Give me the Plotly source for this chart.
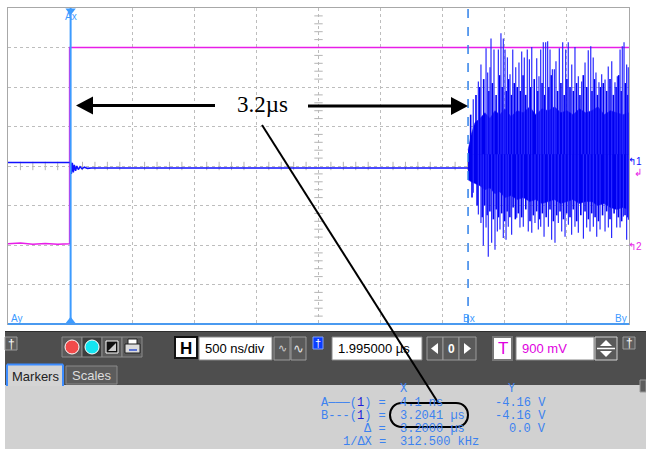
import plotly.graph_objects as go
import numpy as np

W, H = 646, 449

# ---------------- data (time in µs, amplitude in screen divisions) ----------------
marker_a_us = 0.0041
marker_b_us = 3.2041

ch2_t = [-0.5, -0.40, -0.30, -0.20, -0.10, -0.004, -0.004, 4.5]
ch2_v = [2.03, 2.05, 2.02, 2.04, 2.02, 2.03, 7.0, 7.0]

ch1_t = [-0.5, 0.004, 0.010, 0.018, 0.026, 0.034, 0.044, 0.054, 0.066, 0.080,
         0.096, 0.115, 0.14, 0.17, 3.204]
ch1_v = [4.09, 4.09, 3.80, 4.08, 3.84, 4.03, 3.88, 4.00, 3.91, 3.98,
         3.93, 3.97, 3.94, 3.95, 3.95]

# burst: dense core envelope
core_t = [3.204, 3.23, 3.26, 3.30, 3.34, 3.38, 3.42, 3.46, 3.50, 3.55, 3.60, 3.65,
          3.70, 3.75, 3.80, 3.85, 3.90, 3.95, 4.00, 4.05, 4.10, 4.15, 4.20, 4.25,
          4.30, 4.35, 4.40, 4.45, 4.50]
core_hi = [4.4, 4.8, 5.1, 5.2, 5.35, 5.2, 5.4, 5.3, 5.45, 5.25, 5.4, 5.35, 5.5, 5.3,
           5.45, 5.4, 5.5, 5.35, 5.4, 5.3, 5.45, 5.35, 5.4, 5.5, 5.3, 5.4, 5.35, 5.3, 5.35]
core_lo = [3.65, 3.6, 3.55, 3.5, 3.4, 3.45, 3.3, 3.35, 3.2, 3.25, 3.15, 3.2, 3.1, 3.15,
           3.05, 3.1, 3.15, 3.05, 3.1, 3.15, 3.05, 3.1, 3.1, 3.0, 3.05, 2.95, 2.9, 2.95, 2.9]

# burst: positive peaks
peak_hi_t = [3.246, 3.287, 3.308, 3.349, 3.362, 3.381, 3.389, 3.413, 3.448, 3.469,
             3.488, 3.502, 3.521, 3.542, 3.564, 3.588, 3.614, 3.636, 3.657, 3.681,
             3.698, 3.717, 3.757, 3.775, 3.789, 3.810, 3.829, 3.845, 3.864, 3.883,
             3.899, 3.912, 3.939, 3.966, 3.990, 4.011, 4.039, 4.065, 4.092, 4.119,
             4.146, 4.172, 4.192, 4.212, 4.234, 4.258, 4.280, 4.307, 4.333, 4.361,
             4.387, 4.406, 4.428, 4.446, 4.460, 4.481, 4.494]
peak_hi_v = [5.69, 6.14, 6.57, 6.98, 6.37, 6.50, 7.23, 6.95, 6.95, 7.36,
             7.23, 6.95, 6.75, 6.32, 6.95, 6.50, 6.62, 6.90, 6.75, 6.95,
             6.70, 7.01, 6.73, 6.27, 6.95, 7.13, 7.13, 7.16, 6.95, 6.45,
             6.45, 6.65, 6.98, 7.13, 6.95, 7.13, 6.57, 7.01, 6.27, 6.14,
             6.62, 6.93, 7.03, 6.75, 6.37, 6.12, 6.32, 6.19, 6.52, 6.65,
             6.12, 6.27, 6.95, 7.03, 7.13, 6.57, 6.50]

# burst: negative peaks
peak_lo_t = [3.246, 3.287, 3.308, 3.327, 3.349, 3.367, 3.394, 3.421, 3.440, 3.461,
             3.488, 3.510, 3.528, 3.555, 3.596, 3.622, 3.649, 3.689, 3.717, 3.743,
             3.770, 3.789, 3.816, 3.851, 3.877, 3.904, 3.931, 3.958, 3.985, 4.012,
             4.038, 4.065, 4.092, 4.133, 4.159, 4.186, 4.213, 4.240, 4.267, 4.307,
             4.334, 4.360, 4.401, 4.428, 4.455, 4.481, 4.495]
peak_lo_v = [3.32, 2.77, 2.56, 1.98, 2.44, 1.70, 2.06, 1.88, 2.34, 2.39,
             2.18, 2.13, 2.46, 2.26, 2.69, 2.44, 2.46, 2.34, 2.31, 2.56,
             2.39, 2.46, 2.21, 2.46, 2.13, 2.06, 2.56, 2.34, 2.21, 2.51,
             2.26, 2.46, 2.31, 2.16, 2.44, 2.34, 2.46, 2.21, 2.39, 2.34,
             2.44, 2.18, 2.44, 2.44, 2.72, 2.13, 2.64]

# burst: medium-height positive / negative swings inside the envelope
mid_hi_t = [3.225, 3.268, 3.298, 3.330, 3.372, 3.400, 3.430, 3.458, 3.479, 3.512,
            3.531, 3.553, 3.576, 3.600, 3.625, 3.647, 3.669, 3.708, 3.737, 3.766,
            3.800, 3.820, 3.855, 3.874, 3.925, 3.952, 3.978, 4.000, 4.025, 4.052,
            4.078, 4.105, 4.132, 4.160, 4.202, 4.222, 4.246, 4.269, 4.293, 4.320,
            4.347, 4.374, 4.396, 4.417, 4.437, 4.470, 4.488]
mid_hi_v = [5.3, 5.8, 6.0, 6.2, 5.9, 6.1, 5.8, 6.3, 6.0, 5.9,
            6.2, 5.8, 6.1, 6.0, 5.9, 6.3, 5.8, 6.0, 6.2, 5.9,
            6.1, 5.8, 6.0, 6.3, 5.9, 6.1, 5.8, 6.2, 6.0, 5.9,
            6.1, 5.8, 6.3, 6.0, 5.9, 6.2, 5.8, 6.0, 6.1, 5.9,
            6.2, 5.8, 6.0, 6.3, 5.9, 6.1, 5.8]
mid_lo_t = [3.236, 3.277, 3.318, 3.338, 3.358, 3.380, 3.408, 3.431, 3.450, 3.475,
            3.499, 3.519, 3.541, 3.567, 3.585, 3.609, 3.636, 3.669, 3.703, 3.730,
            3.756, 3.780, 3.803, 3.833, 3.864, 3.891, 3.918, 3.945, 3.972, 3.998,
            4.025, 4.052, 4.079, 4.112, 4.146, 4.173, 4.200, 4.227, 4.254, 4.287,
            4.320, 4.347, 4.380, 4.414, 4.441, 4.468, 4.490]
mid_lo_v = [3.2, 3.0, 2.7, 3.0, 2.75, 2.85, 2.65, 2.9, 2.7, 2.8,
            2.6, 2.85, 2.7, 2.95, 2.65, 2.8, 2.7, 2.9, 2.6, 2.75,
            2.85, 2.65, 2.8, 2.7, 2.9, 2.6, 2.75, 2.85, 2.65, 2.8,
            2.7, 2.9, 2.6, 2.75, 2.85, 2.65, 2.8, 2.7, 2.6, 2.75,
            2.85, 2.65, 2.8, 2.7, 2.6, 2.75, 2.7]

# measurement readout
meas_labels = ["A———(<span style='color:#1c1cd8'>1</span>) =",
               "B---(<span style='color:#1c1cd8'>1</span>) =",
               "Δ =", "1/ΔX ="]
meas_x = ["4.1 ns", "3.2041 µs", "3.2000 µs", "312.500 kHz"]
meas_y = ["-4.16 V", "-4.16 V", "0.0 V"]

# ---------------- helpers (pixel -> paper) ----------------
def px(x):
    return x / W


def py(y):
    return 1 - y / H


shapes = []
annots = []


def rect(x0, y0, x1, y1, fill, line="rgba(0,0,0,0)", lw=0):
    shapes.append(dict(type="rect", xref="paper", yref="paper",
                       x0=px(x0), x1=px(x1), y0=py(y1), y1=py(y0),
                       fillcolor=fill, line=dict(color=line, width=lw), layer="above"))


def seg(x0, y0, x1, y1, color, lw, dash="solid"):
    shapes.append(dict(type="line", xref="paper", yref="paper",
                       x0=px(x0), x1=px(x1), y0=py(y0), y1=py(y1),
                       line=dict(color=color, width=lw, dash=dash), layer="above"))


def poly(pts, fill, line="rgba(0,0,0,0)", lw=0):
    d = "M " + " L ".join(f"{px(a)},{py(b)}" for a, b in pts) + " Z"
    shapes.append(dict(type="path", xref="paper", yref="paper", path=d,
                       fillcolor=fill, line=dict(color=line, width=lw), layer="above"))


def circ(cx, cy, r, fill, line="rgba(0,0,0,0)", lw=0):
    shapes.append(dict(type="circle", xref="paper", yref="paper",
                       x0=px(cx - r), x1=px(cx + r), y0=py(cy + r), y1=py(cy - r),
                       fillcolor=fill, line=dict(color=line, width=lw), layer="above"))


def txt(x, y, s, size, color, family="Liberation Sans", xa="left", ya="middle"):
    annots.append(dict(x=px(x), y=py(y), xref="paper", yref="paper", text=s,
                       showarrow=False, xanchor=xa, yanchor=ya,
                       font=dict(size=size, color=color, family=family)))


# ---------------- traces ----------------
fig = go.Figure()

# centre-line minor ticks (graticule)
vt = [v for v in np.arange(0, 8.001, 0.2) if abs(v - round(v)) > 1e-6]
ht = [v for v in np.arange(-0.5, 4.501, 0.1) if abs(v * 2 - round(v * 2)) > 1e-6]
fig.add_trace(go.Scatter(x=[2.0] * len(vt), y=vt, mode="markers", hoverinfo="skip",
                         marker=dict(symbol="line-ew", size=6, line=dict(color="#b4b4b4", width=1))))
fig.add_trace(go.Scatter(x=ht, y=[4.0] * len(ht), mode="markers", hoverinfo="skip",
                         marker=dict(symbol="line-ns", size=6, line=dict(color="#b4b4b4", width=1))))

# channel 2 (magenta)
fig.add_trace(go.Scatter(x=ch2_t, y=ch2_v, mode="lines",
                         line=dict(color="#e81ee8", width=1.5)))
# channel 1 baseline (blue)
fig.add_trace(go.Scatter(x=ch1_t, y=ch1_v, mode="lines",
                         line=dict(color="#1010ff", width=1.5)))

# burst medium swings
mx, my = [], []
for t, v in zip(mid_hi_t, mid_hi_v):
    mx += [t, t, None]
    my += [4.3, v, None]
for t, v in zip(mid_lo_t, mid_lo_v):
    mx += [t, t, None]
    my += [4.3, v, None]
fig.add_trace(go.Scatter(x=mx, y=my, mode="lines", connectgaps=False,
                         line=dict(color="#0000f0", width=1.6)))

# burst core
fig.add_trace(go.Scatter(x=core_t + core_t[::-1], y=core_hi + core_lo[::-1],
                         mode="lines", fill="toself", fillcolor="#0000f0",
                         line=dict(color="#0000f0", width=0.5)))

# burst peaks
sx, sy = [], []
for t, v in zip(peak_hi_t, peak_hi_v):
    sx += [t, t, None]
    sy += [4.3, v, None]
for t, v in zip(peak_lo_t, peak_lo_v):
    sx += [t, t, None]
    sy += [4.3, v, None]
fig.add_trace(go.Scatter(x=sx, y=sy, mode="lines", connectgaps=False,
                         line=dict(color="#2a2aff", width=1.2)))

# marker triangles
fig.add_trace(go.Scatter(x=[marker_a_us, marker_a_us], y=[7.93, 0.07], mode="markers",
                         cliponaxis=False, hoverinfo="skip",
                         marker=dict(symbol=["triangle-down", "triangle-up"], size=9,
                                     color="#3d9bff")))

# ---------------- plot decorations ----------------
shapes.append(dict(type="line", xref="x", yref="y", x0=marker_a_us, x1=marker_a_us, y0=0, y1=8,
                   line=dict(color="#3d9bff", width=2), layer="above"))
shapes.append(dict(type="line", xref="x", yref="y", x0=marker_b_us, x1=marker_b_us, y0=0, y1=8,
                   line=dict(color="#2f80e8", width=1.5, dash="dash"), layer="above"))
seg(8, 324, 629, 324, "#4a9af0", 2)

txt(71, 16, "Ax", 10, "#3d9bff", xa="center")
txt(9, 318, "Ay", 10, "#3d9bff")
txt(469, 318, "Bx", 10, "#3d9bff", xa="center")
txt(629, 318, "By", 10, "#3d9bff", xa="right")

# channel offset markers on right
txt(644, 161, "↰1", 10, "#1010ff", xa="right")
txt(632, 172, "↲", 10, "#e81ee8")
txt(644, 246, "↰2", 10, "#e81ee8", xa="right")

# ---------------- control panel ----------------
rect(5, 331, 646, 385, "#4e4e4e")
seg(5, 331.5, 646, 331.5, "#2e2e2e", 1)
rect(5, 385, 646, 449, "#d1d1d1")

rect(5, 337, 17, 350, "#5e5e5e", "#9a9a9a", 1)
txt(11, 343.5, "†", 12, "#ffffff", xa="center")
rect(623, 337, 635, 349, "#5e5e5e", "#9a9a9a", 1)
txt(629, 343, "†", 12, "#ffffff", xa="center")
rect(640, 380, 646, 392, "#5e5e5e", "#9a9a9a", 1)

rect(62, 337, 82, 357, "#5a5a5a", "#8a8a8a", 1)
circ(72, 347, 7, "#f24a4a", "#ffffff", 1)
rect(82, 337, 102, 357, "#3e3e3e", "#8a8a8a", 1)
circ(92, 347, 7, "#14e4f0", "#ffffff", 1)
rect(102, 337, 122, 357, "#5a5a5a", "#8a8a8a", 1)
rect(106, 341, 118, 353, "#111111", "#ffffff", 1)
poly([(108, 351), (116, 343), (116, 351)], "#cfcfcf")
rect(122, 337, 142, 357, "#5a5a5a", "#8a8a8a", 1)
rect(128, 339, 137, 345, "#ffffff", "#222222", 1)
rect(125, 344, 140, 353, "#dcdcdc", "#222222", 1)
seg(129, 350, 137, 350, "#3050d0", 1.5)

rect(175, 337, 197, 358, "#ffffff", "#111111", 2)
txt(186, 348, "<b>H</b>", 17, "#000000", xa="center")
rect(199, 337, 272, 360, "#ffffff", "#888888", 1)
txt(203, 348.5, "500 ns/div", 13, "#000000")
rect(274, 337, 290, 360, "#5a5a5a", "#9a9a9a", 1)
txt(282, 348, "∿", 11, "#cfcfcf", xa="center")
rect(291, 337, 306, 360, "#5a5a5a", "#9a9a9a", 1)
txt(298.5, 348, "∿", 13, "#e6e6e6", xa="center")
rect(313, 337, 323, 349, "#0a3cff", "#7fa0ff", 1)
txt(318, 343, "†", 11, "#ffffff", xa="center")
rect(332, 337, 422, 360, "#ffffff", "#888888", 1)
txt(336, 348.5, "1.995000 µs", 13, "#000000")

rect(427, 337, 443, 360, "#5a5a5a", "#9a9a9a", 1)
poly([(431, 348.5), (438, 343), (438, 354)], "#ffffff")
rect(443, 337, 459, 360, "#5a5a5a", "#9a9a9a", 1)
txt(451, 348.5, "<b>0</b>", 12, "#ffffff", xa="center")
rect(459, 337, 476, 360, "#5a5a5a", "#9a9a9a", 1)
poly([(471, 348.5), (464, 343), (464, 354)], "#ffffff")

rect(493, 337, 512, 360, "#ffffff", "#777777", 2)
txt(502.5, 348.5, "T", 17, "#e000e0", xa="center")
rect(516, 337, 594, 360, "#ffffff", "#888888", 1)
txt(520, 348.5, "900 mV", 13, "#e000e0")
rect(595, 337, 617, 360, "#5a5a5a", "#d0d0d0", 1)
seg(597, 348.5, 615, 348.5, "#ffffff", 1.5)
poly([(600, 346), (606, 340), (612, 346)], "#ffffff")
poly([(600, 351), (606, 357), (612, 351)], "#ffffff")

rect(7, 364, 63, 386, "#d4d4d4")
seg(7, 386, 7, 364.5, "#3c8cff", 2)
seg(7, 364.5, 63, 364.5, "#3c8cff", 2)
seg(63, 364.5, 63, 386, "#3c8cff", 2)
txt(35, 376, "Markers", 13, "#222222", xa="center")
rect(66, 366, 117, 384, "#5c5c5c", "#8a8a8a", 1)
txt(91.5, 375.5, "Scales", 13, "#dedede", xa="center")

mono = "Liberation Mono"
mc = "#3c82f0"
txt(403, 389, "X", 12, mc, mono, xa="center")
txt(511, 389, "Y", 12, mc, mono, xa="center")
rows_y = [403, 416, 429, 442]
for i, (lab, xv) in enumerate(zip(meas_labels, meas_x)):
    txt(388, rows_y[i], lab, 12, mc, mono, xa="right")
    txt(398, rows_y[i], xv, 12, mc, mono)
for i, yv in enumerate(meas_y):
    txt(548, rows_y[i], yv, 12, mc, mono, xa="right")

# ---------------- annotation overlay (arrows, callout) ----------------
seg(215, 105.5, 90, 105.5, "#000000", 3)
poly([(76, 105.5), (93, 96.5), (93, 114.5)], "#000000")
seg(308, 106, 453, 106, "#000000", 3)
poly([(468, 106), (451, 97), (451, 115)], "#000000")
txt(262, 104, "3.2µs", 23, "#000000", "Liberation Serif", xa="center")
seg(262, 125, 438, 402.5, "#000000", 2)
stadium = ("M {a},{t} L {b},{t} C {c},{t} {c},{btm} {b},{btm} L {a},{btm} C {d},{btm} {d},{t} {a},{t} Z")
shapes.append(dict(type="path", xref="paper", yref="paper",
                   path=stadium.format(a=px(402), b=px(456), c=px(472), d=px(386),
                                       t=py(403), btm=py(427)),
                   line=dict(color="#000000", width=2), fillcolor="rgba(0,0,0,0)", layer="above"))

# ---------------- layout ----------------
fig.update_layout(
    width=W, height=H, margin=dict(l=0, r=0, t=0, b=0),
    paper_bgcolor="#ffffff", plot_bgcolor="#ffffff", showlegend=False,
    shapes=shapes, annotations=annots,
    xaxis=dict(domain=[8 / W, 629 / W], range=[-0.5, 4.5], dtick=0.5, tick0=-0.5,
               showticklabels=False, ticks="", zeroline=False,
               showgrid=True, gridcolor="#bdbdbd", griddash="dot", gridwidth=1,
               showline=True, linecolor="#a8a8a8", linewidth=1, mirror=True),
    yaxis=dict(domain=[1 - 324 / H, 1 - 8 / H], range=[0, 8], dtick=1,
               showticklabels=False, ticks="", zeroline=False,
               showgrid=True, gridcolor="#bdbdbd", griddash="dot", gridwidth=1,
               showline=True, linecolor="#a8a8a8", linewidth=1, mirror=True),
)

fig.write_html("out.html", config={"displayModeBar": False},
               post_script="document.body.style.margin='0';document.body.style.overflow='hidden';")
